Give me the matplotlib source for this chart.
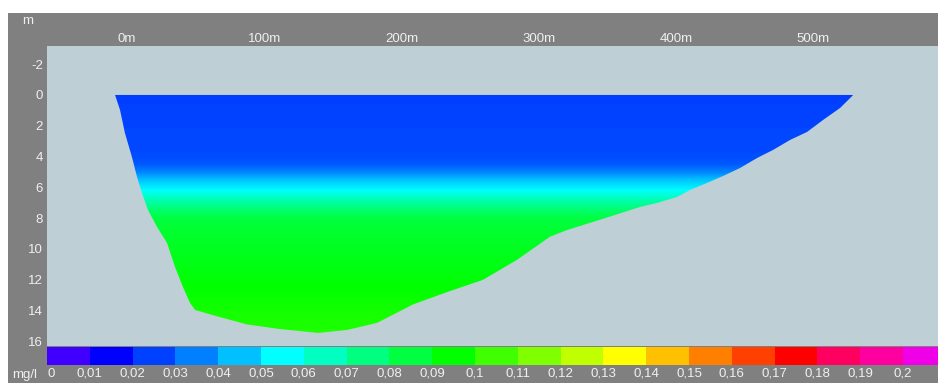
import numpy as np
import matplotlib
matplotlib.use("Agg")
import matplotlib.pyplot as plt
from matplotlib.patches import Rectangle, Polygon
from matplotlib.colors import LinearSegmentedColormap, to_rgb

plt.rcParams['font.family'] = ['Liberation Sans', 'DejaVu Sans']

# ---- data ----
# cross-section bottom profile (distance m, depth m)
bottom_x = [-8.7, -5.1, -1.5, 3.6, 7.3, 10.9, 15.3, 21.9, 29.2, 35.0, 40.8, 45.9, 49.6,
            62.7, 87.5, 111.5, 139.2, 160.3, 182.2, 208.5, 233.2, 259.5, 284.3, 308.3,
            320.7, 344.7, 373.9, 386.3, 400.9, 410.3, 422.7, 434.4, 446.8, 459.2, 470.8,
            483.2, 495.6, 507.3, 519.7, 529.2]
bottom_d = [0.0, 0.97, 2.47, 4.03, 5.32, 6.36, 7.47, 8.57, 9.61, 11.17, 12.47, 13.5, 13.96,
            14.3, 14.9, 15.2, 15.45, 15.26, 14.8, 13.6, 12.8, 12.0, 10.7, 9.2,
            8.77, 8.1, 7.27, 7.01, 6.62, 6.17, 5.71, 5.26, 4.74, 4.09, 3.57,
            2.92, 2.4, 1.62, 0.84, 0.0]

# vertical concentration profile (depth m -> mg/l)
profile_depth = [0.0, 2.0, 4.0, 4.5, 5.0, 5.5, 6.2, 6.7, 7.3, 8.0, 9.0, 10.0, 11.0, 12.0, 13.0, 14.0, 15.6]
profile_value = [0.020, 0.021, 0.022, 0.024, 0.030, 0.040, 0.050, 0.060, 0.070, 0.080, 0.083, 0.085,
                 0.087, 0.089, 0.091, 0.093, 0.095]

# colour scale
scale_values = [0, 0.01, 0.02, 0.03, 0.04, 0.05, 0.06, 0.07, 0.08, 0.09, 0.1,
                0.11, 0.12, 0.13, 0.14, 0.15, 0.16, 0.17, 0.18, 0.19, 0.2]
scale_labels = ['0', '0,01', '0,02', '0,03', '0,04', '0,05', '0,06', '0,07', '0,08', '0,09', '0,1',
                '0,11', '0,12', '0,13', '0,14', '0,15', '0,16', '0,17', '0,18', '0,19', '0,2']
scale_colors = ['#4000FF', '#0000FF', '#0040FF', '#0080FF', '#00C0FF', '#00FFFF', '#00FFC0',
                '#00FF80', '#00FF40', '#00FF00', '#40FF00', '#80FF00', '#C0FF00', '#FFFF00',
                '#FFC000', '#FF8000', '#FF4000', '#FF0000', '#FF0060', '#FF00A0', '#F000E8']

x_ticks = [0, 100, 200, 300, 400, 500]
x_tick_labels = ['0m', '100m', '200m', '300m', '400m', '500m']
y_ticks = [-2, 0, 2, 4, 6, 8, 10, 12, 14, 16]
y_tick_labels = ['-2', '0', '2', '4', '6', '8', '10', '12', '14', '16']

# ---- figure ----
W, H = 938, 383
fig = plt.figure(figsize=(W / 100, H / 100), dpi=100)
fig.patch.set_facecolor('white')
fig.add_artist(Rectangle((8 / W, 0), (W - 8) / W, (H - 13) / H, transform=fig.transFigure,
                         facecolor='#808080', edgecolor='none', zorder=0))

txt_col = '#F0F0F0'
fs = 9.5

ax = fig.add_axes([47 / W, 1 - 346 / H, (W - 47) / W, 300 / H])
ax.set_facecolor('#BECFD6')

cmap = LinearSegmentedColormap.from_list(
    'conc', list(zip(np.linspace(0, 1, len(scale_colors)), [to_rgb(c) for c in scale_colors])))

dmax = max(bottom_d) + 0.2
dgrid = np.linspace(0, dmax, 600)
vals = np.interp(dgrid, profile_depth, profile_value)
rgb = cmap(np.array(vals) / 0.2)[:, :3]
img = np.repeat(rgb[:, None, :], 2, axis=1)

poly = Polygon(np.column_stack([bottom_x, bottom_d]), closed=True, transform=ax.transData,
               facecolor='none', edgecolor='none')
ax.add_patch(poly)
im = ax.imshow(img, extent=(min(bottom_x), max(bottom_x), dmax, 0), origin='upper',
               aspect='auto', interpolation='bilinear')
im.set_clip_path(poly)

ax.set_xlim(-58.3, 591)
ax.set_ylim(16.3, -3.18)
for s in ax.spines.values():
    s.set_visible(False)
ax.xaxis.tick_top()
ax.set_xticks(x_ticks)
ax.set_xticklabels(x_tick_labels)
ax.set_yticks(y_ticks)
ax.set_yticklabels(y_tick_labels)
ax.tick_params(axis='x', length=0, pad=1, labelsize=fs, labelcolor=txt_col)
ax.tick_params(axis='y', length=0, pad=3, labelsize=fs, labelcolor=txt_col)

fig.text(28 / W, 1 - 21 / H, 'm', color=txt_col, fontsize=fs, ha='center', va='center')

# colour bar
cax = fig.add_axes([47 / W, 1 - 365 / H, (W - 47) / W, 18 / H])
cax.bar(np.arange(len(scale_values)), np.ones(len(scale_values)), width=1.0, align='edge',
        color=scale_colors, edgecolor='none')
cax.set_xlim(0, (W - 47) / 42.8)
cax.set_ylim(0, 1)
for s in cax.spines.values():
    s.set_visible(False)
cax.set_yticks([])
cax.set_xticks(np.arange(len(scale_values)))
cax.set_xticklabels(scale_labels)
cax.tick_params(axis='x', length=0, pad=2, labelsize=fs, labelcolor=txt_col)
cax.get_xticklabels()[0].set_horizontalalignment('left')
fig.text(25 / W, 1 - 375 / H, 'mg/l', color=txt_col, fontsize=fs, ha='center', va='center')

fig.savefig('out.png', dpi=100, facecolor=fig.get_facecolor())
